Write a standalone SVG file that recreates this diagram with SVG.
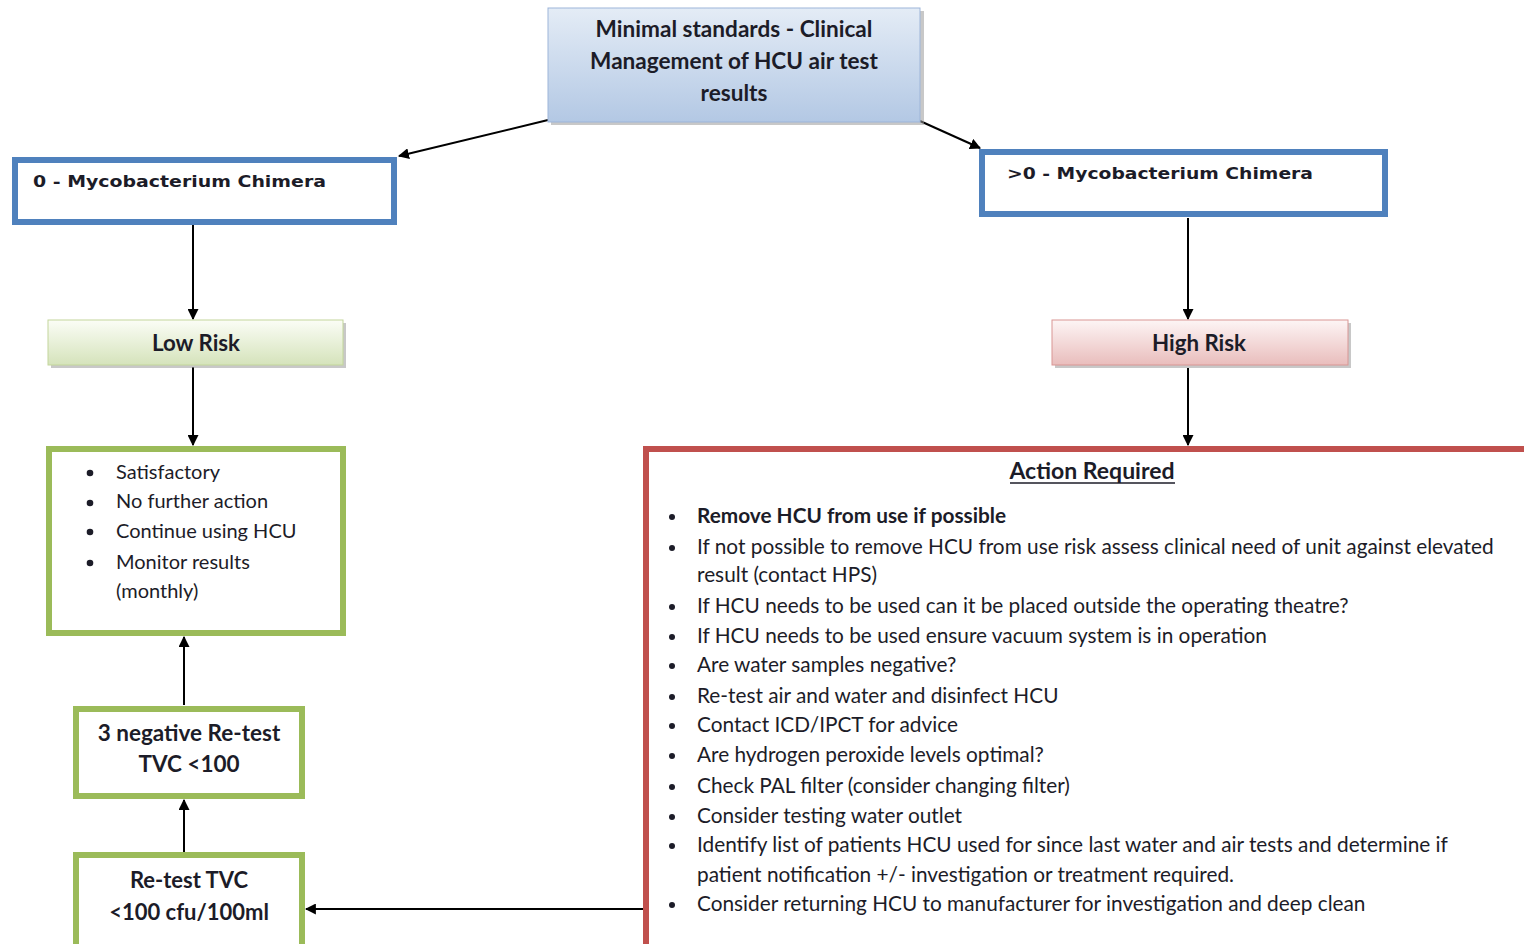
<svg xmlns="http://www.w3.org/2000/svg" width="1524" height="944" viewBox="0 0 1524 944">
<defs>
<linearGradient id="gBlue" x1="0" y1="0" x2="0" y2="1"><stop offset="0" stop-color="#e4ecf6"/><stop offset="1" stop-color="#b3c8e4"/></linearGradient>
<linearGradient id="gGreen" x1="0" y1="0" x2="0" y2="1"><stop offset="0" stop-color="#fbfdf6"/><stop offset="1" stop-color="#d5e3bb"/></linearGradient>
<linearGradient id="gRed" x1="0" y1="0" x2="0" y2="1"><stop offset="0" stop-color="#fdf5f5"/><stop offset="1" stop-color="#e9bdbc"/></linearGradient>
<marker id="arr" viewBox="0 0 10 10" refX="9" refY="5" markerWidth="11" markerHeight="11" markerUnits="userSpaceOnUse" orient="auto"><path d="M0,0 L10,5 L0,10 z" fill="#000"/></marker>
</defs>
<style>
.t{font-family:Lato,"Open Sans","Liberation Sans",sans-serif;fill:#1c1c28}
.b{font-weight:bold}
.my{font-family:"DejaVu Sans",Verdana,sans-serif;font-weight:bold;font-size:16.5px;fill:#1c1c28}
.c{text-anchor:middle}
.con{stroke:#000;stroke-width:2;fill:none;marker-end:url(#arr)}
.shadow{fill:#9a9a9a;opacity:0.55}
</style>
<rect width="1524" height="944" fill="#fff"/>

<g id="connectors">
<line class="con" x1="548" y1="120" x2="399" y2="156"/>
<line class="con" x1="920" y1="121" x2="980" y2="148"/>
<line class="con" x1="193" y1="225" x2="193" y2="319"/>
<line class="con" x1="193" y1="367" x2="193" y2="445"/>
<line class="con" x1="1188" y1="218" x2="1188" y2="319"/>
<line class="con" x1="1188" y1="368" x2="1188" y2="445"/>
<line class="con" x1="184" y1="705" x2="184" y2="637"/>
<line class="con" x1="184" y1="852" x2="184" y2="800"/>
<line class="con" x1="645" y1="909" x2="306" y2="909"/>
</g>

<g id="top">
<rect class="shadow" x="551" y="11" width="373" height="114"/>
<rect x="548" y="8" width="372" height="114" fill="url(#gBlue)" stroke="#9db5d9" stroke-width="1"/>
<text class="t b c" x="734" y="37" font-size="22.6">Minimal standards - Clinical</text>
<text class="t b c" x="734" y="69" font-size="22.6">Management of HCU air test</text>
<text class="t b c" x="734" y="101" font-size="22.6">results</text>
</g>

<g id="zero">
<rect x="15" y="160" width="379" height="62" fill="#fff" stroke="#4f81bd" stroke-width="6"/>
<text class="my" x="33" y="187" textLength="293" lengthAdjust="spacingAndGlyphs">0 - Mycobacterium Chimera</text>
</g>

<g id="gtzero">
<rect x="982" y="152" width="403" height="62" fill="#fff" stroke="#4f81bd" stroke-width="6"/>
<text class="my" x="1007" y="179" textLength="306" lengthAdjust="spacingAndGlyphs">&gt;0 - Mycobacterium Chimera</text>
</g>

<g id="lowrisk">
<rect class="shadow" x="51" y="323" width="295" height="45"/>
<rect x="48" y="320" width="295" height="45" fill="url(#gGreen)" stroke="#c3d69b" stroke-width="1"/>
<text class="t b c" x="196" y="351" font-size="22.3">Low Risk</text>
</g>

<g id="highrisk">
<rect class="shadow" x="1055" y="323" width="296" height="45"/>
<rect x="1052" y="320" width="296" height="45" fill="url(#gRed)" stroke="#d99694" stroke-width="1"/>
<text class="t b c" x="1199" y="351" font-size="22.3">High Risk</text>
</g>

<g id="lowlist">
<rect x="49" y="449" width="294" height="184" fill="#fff" stroke="#9bbb59" stroke-width="6"/>
<g fill="#1c1c28"><circle cx="90" cy="473" r="3.3"/><circle cx="90" cy="503" r="3.3"/><circle cx="90" cy="532" r="3.3"/><circle cx="90" cy="563" r="3.3"/></g>
<text class="t" x="116" y="479" font-size="20">Satisfactory</text>
<text class="t" x="116" y="508" font-size="20">No further action</text>
<text class="t" x="116" y="538" font-size="20">Continue using HCU</text>
<text class="t" x="116" y="569" font-size="20">Monitor results</text>
<text class="t" x="116" y="598" font-size="20">(monthly)</text>
</g>

<g id="action">
<rect x="646" y="449" width="890" height="500" fill="#fff" stroke="#c0504d" stroke-width="6"/>
<text class="t b c" x="1092" y="479" font-size="23">Action Required</text>
<line x1="1010" y1="483" x2="1175" y2="483" stroke="#1c1c28" stroke-width="1.6"/>
<g fill="#1c1c28">
<circle cx="672" cy="517" r="3"/><circle cx="672" cy="548" r="3"/><circle cx="672" cy="607" r="3"/><circle cx="672" cy="637" r="3"/><circle cx="672" cy="666" r="3"/><circle cx="672" cy="697" r="3"/><circle cx="672" cy="726" r="3"/><circle cx="672" cy="756" r="3"/><circle cx="672" cy="787" r="3"/><circle cx="672" cy="817" r="3"/><circle cx="672" cy="846" r="3"/><circle cx="672" cy="905" r="3"/>
</g>
<g font-size="20.8">
<text class="t b" x="697" y="523">Remove HCU from use if possible</text>
<text class="t" x="697" y="554">If not possible to remove HCU from use risk assess clinical need of unit against elevated</text>
<text class="t" x="697" y="582">result (contact HPS)</text>
<text class="t" x="697" y="613">If HCU needs to be used can it be placed outside the operating theatre?</text>
<text class="t" x="697" y="643">If HCU needs to be used ensure vacuum system is in operation</text>
<text class="t" x="697" y="672">Are water samples negative?</text>
<text class="t" x="697" y="703">Re-test air and water and disinfect HCU</text>
<text class="t" x="697" y="732">Contact ICD/IPCT for advice</text>
<text class="t" x="697" y="762">Are hydrogen peroxide levels optimal?</text>
<text class="t" x="697" y="793">Check PAL filter (consider changing filter)</text>
<text class="t" x="697" y="823">Consider testing water outlet</text>
<text class="t" x="697" y="852">Identify list of patients HCU used for since last water and air tests and determine if</text>
<text class="t" x="697" y="882">patient notification +/- investigation or treatment required.</text>
<text class="t" x="697" y="911">Consider returning HCU to manufacturer for investigation and deep clean</text>
</g>
</g>

<g id="negretest">
<rect x="76" y="709" width="226" height="87" fill="#fff" stroke="#9bbb59" stroke-width="6"/>
<text class="t b c" x="189" y="741" font-size="22.5">3 negative Re-test</text>
<text class="t b c" x="189" y="772" font-size="22.5">TVC &lt;100</text>
</g>

<g id="retest">
<rect x="76" y="855" width="226" height="94" fill="#fff" stroke="#9bbb59" stroke-width="6"/>
<text class="t b c" x="189" y="888" font-size="22">Re-test TVC</text>
<text class="t b c" x="189" y="920" font-size="22">&lt;100 cfu/100ml</text>
</g>
</svg>
